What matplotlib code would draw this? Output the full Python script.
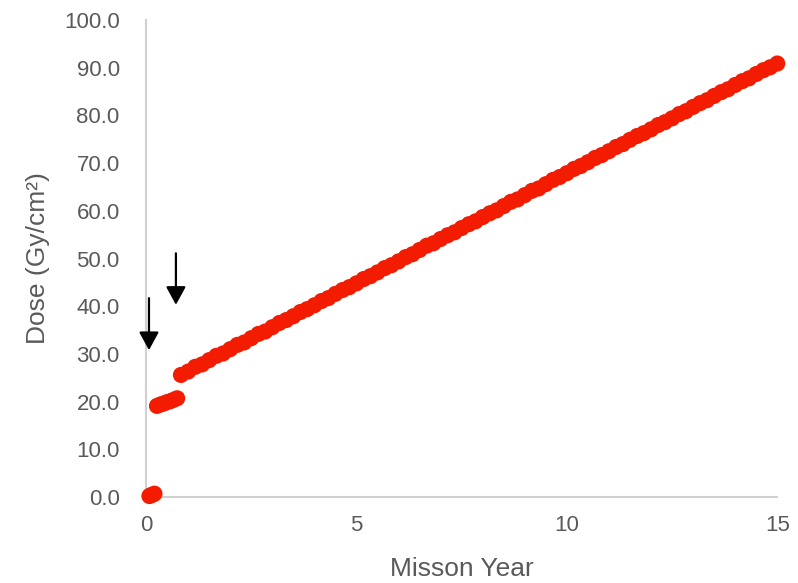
import matplotlib.pyplot as plt

# dose readings, first two months (before and after the first event)
early_years = [0.08, 0.12, 0.16, 0.20]
early_dose = [0.2, 0.4, 0.5, 0.7]

step_years = [0.26, 0.34, 0.42, 0.50, 0.58, 0.66, 0.74]
step_dose = [19.1, 19.4, 19.6, 19.9, 20.1, 20.4, 20.7]

# main accumulation after the second event
mission_years = [
	0.83, 1.00, 1.17, 1.33, 1.50, 1.67, 1.83, 2.00, 2.17, 2.33,
	2.50, 2.67, 2.83, 3.00, 3.17, 3.33, 3.50, 3.67, 3.83, 4.00,
	4.17, 4.33, 4.50, 4.67, 4.83, 5.00, 5.17, 5.33, 5.50, 5.67,
	5.83, 6.00, 6.17, 6.33, 6.50, 6.67, 6.83, 7.00, 7.17, 7.33,
	7.50, 7.67, 7.83, 8.00, 8.17, 8.33, 8.50, 8.67, 8.83, 9.00,
	9.17, 9.33, 9.50, 9.67, 9.83, 10.00, 10.17, 10.33, 10.50, 10.67,
	10.83, 11.00, 11.17, 11.33, 11.50, 11.67, 11.83, 12.00, 12.17, 12.33,
	12.50, 12.67, 12.83, 13.00, 13.17, 13.33, 13.50, 13.67, 13.83, 14.00,
	14.17, 14.33, 14.50, 14.67, 14.83, 15.00,
]
mission_dose = [
	25.6, 26.3, 27.3, 27.8, 28.7, 29.6, 30.1, 31.0, 31.9, 32.4,
	33.3, 34.2, 34.7, 35.6, 36.5, 37.1, 37.9, 38.8, 39.4, 40.2,
	41.1, 41.7, 42.6, 43.4, 44.0, 44.8, 45.7, 46.3, 47.1, 48.0,
	48.6, 49.4, 50.3, 50.9, 51.8, 52.7, 53.2, 54.1, 54.9, 55.5,
	56.4, 57.2, 57.8, 58.7, 59.5, 60.1, 61.0, 61.9, 62.4, 63.3,
	64.2, 64.7, 65.6, 66.5, 67.1, 67.9, 68.8, 69.4, 70.2, 71.1,
	71.7, 72.5, 73.4, 74.0, 74.9, 75.7, 76.3, 77.1, 78.0, 78.6,
	79.4, 80.3, 80.9, 81.8, 82.6, 83.2, 84.1, 84.9, 85.5, 86.4,
	87.2, 87.8, 88.7, 89.5, 90.1, 90.9,
]

# event markers (x, arrow top, arrow tip)
arrow_x = [0.07, 0.71]
arrow_top = [41.7, 51.1]
arrow_tip = [30.8, 40.3]

red = '#f41c00'
grey = '#5a5a5a'
font = 'Liberation Sans'

fig = plt.figure(figsize=(7.98, 5.83), dpi=100)
ax = fig.add_axes([0.183, 0.1475, 0.791, 0.818])

for xs, ys in [(early_years, early_dose), (step_years, step_dose), (mission_years, mission_dose)]:
	ax.scatter(xs, ys, s=135, color=red, edgecolors='none', clip_on=False, zorder=3)

for x, top, tip in zip(arrow_x, arrow_top, arrow_tip):
	ax.annotate(
		'', xy=(x, tip), xytext=(x, top),
		arrowprops=dict(arrowstyle='-|>,head_width=0.3,head_length=0.55', color='black', lw=1.6, mutation_scale=20,
						shrinkA=0, shrinkB=0),
	)

ax.set_xlim(0, 15)
ax.set_ylim(0, 100)
ax.set_xticks([0, 5, 10, 15])
ax.set_yticks(range(0, 101, 10))
ax.set_yticklabels([f'{v:.1f}' for v in range(0, 101, 10)])

for side in ['top', 'right']:
	ax.spines[side].set_visible(False)
for side in ['left', 'bottom']:
	ax.spines[side].set_color('#d0d0d0')
	ax.spines[side].set_linewidth(1.5)

ax.tick_params(axis='both', length=0, labelsize=16, labelcolor=grey)
ax.tick_params(axis='y', pad=19)
ax.tick_params(axis='x', pad=13)
for lbl in ax.get_xticklabels() + ax.get_yticklabels():
	lbl.set_family(font)

ax.set_xlabel('Misson Year', fontsize=19, color=grey, family=font, labelpad=15)
ax.set_ylabel('Dose (Gy/cm²)', fontsize=19, color=grey, family=font, labelpad=10)

fig.savefig('out.png', dpi=100)
